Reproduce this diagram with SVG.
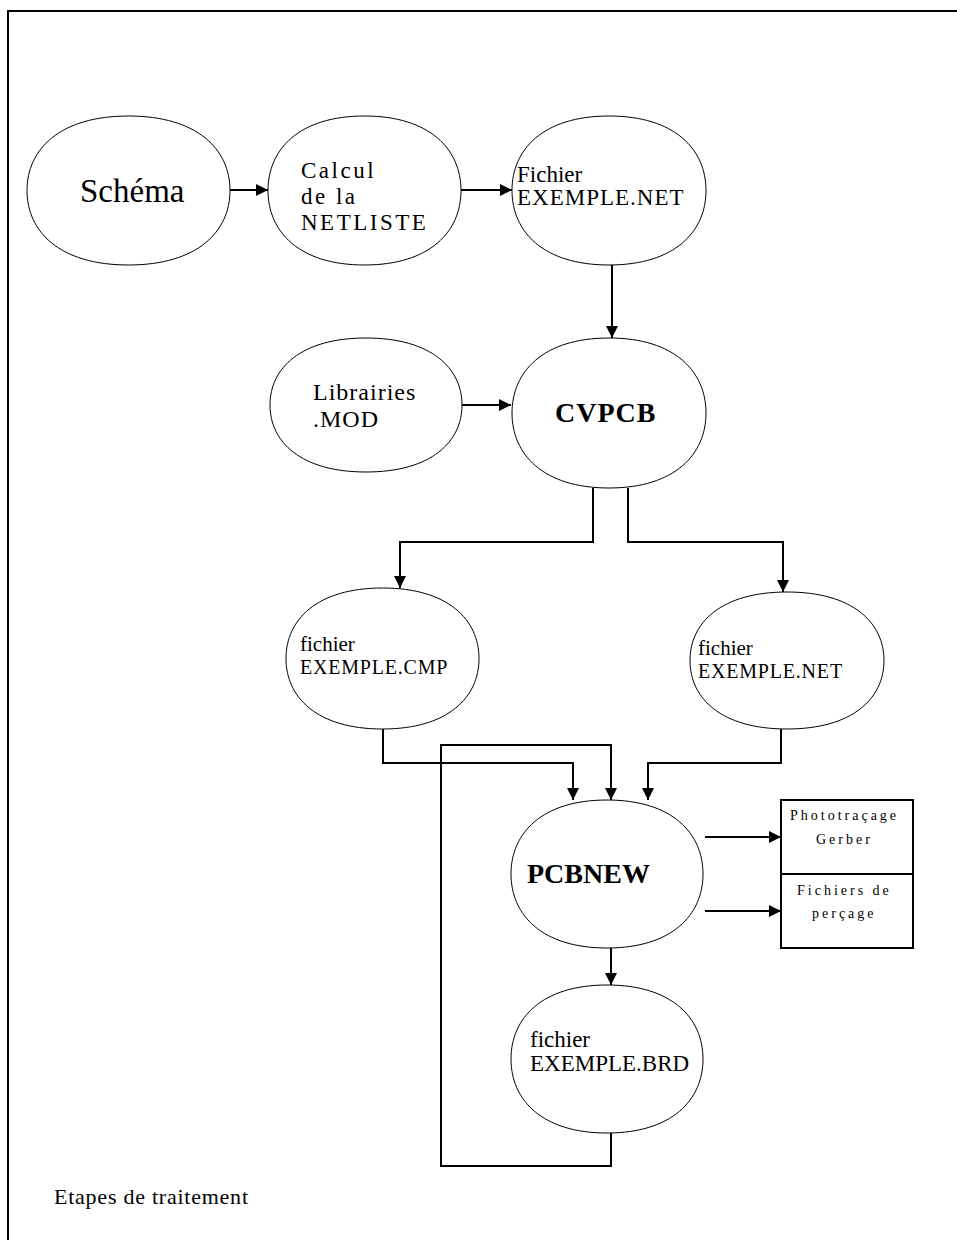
<svg xmlns="http://www.w3.org/2000/svg" width="957" height="1240" viewBox="0 0 957 1240">
<style>
.oval{fill:#fff;stroke:#000;stroke-width:1}
.box{fill:#fff;stroke:#000;stroke-width:2}
.con{fill:none;stroke:#000;stroke-width:2}
.t{font-family:"Liberation Serif","Times New Roman",serif;fill:#000}
.b{font-family:"Liberation Serif","Times New Roman",serif;font-weight:bold;fill:#000;font-size:28px}
.sp{font-family:"Liberation Serif","Times New Roman",serif;fill:#000;font-size:14px;letter-spacing:3px}
</style>
<defs>
<marker id="ah" markerUnits="userSpaceOnUse" markerWidth="12" markerHeight="12" refX="12" refY="6" orient="auto" viewBox="0 0 12 12">
<path d="M0,0 L12,6 L0,12 Z" fill="#000"/>
</marker>
</defs>
<rect x="0" y="0" width="957" height="1240" fill="#fff"/>
<g id="frame"><path d="M8,1240 L8,11 L957,11" fill="none" stroke="#000" stroke-width="2"/></g>

<g id="connectors">
<path class="con" d="M230,190 L268,190" marker-end="url(#ah)"/>
<path class="con" d="M461,190 L512,190" marker-end="url(#ah)"/>
<path class="con" d="M612,265 L612,338" marker-end="url(#ah)"/>
<path class="con" d="M462,405 L511,405" marker-end="url(#ah)"/>
<path class="con" d="M593,488 L593,542 L400,542 L400,588" marker-end="url(#ah)"/>
<path class="con" d="M628,488 L628,542 L783,542 L783,592" marker-end="url(#ah)"/>
<path class="con" d="M383,729 L383,763 L573,763 L573,800" marker-end="url(#ah)"/>
<path class="con" d="M781,729 L781,763 L648,763 L648,800" marker-end="url(#ah)"/>
<path class="con" d="M611,1133 L611,1166 L441,1166 L441,745 L611,745 L611,800" marker-end="url(#ah)"/>
<path class="con" d="M611,948 L611,985" marker-end="url(#ah)"/>
<path class="con" d="M705,837 L781,837" marker-end="url(#ah)"/>
<path class="con" d="M705,911 L781,911" marker-end="url(#ah)"/>
</g>

<g id="schema">
<path class="oval" d="M27,190.5 C27,149.5 59.5,116 128.5,116 C197.5,116 230,149.5 230,190.5 C230,231.5 197.5,265 128.5,265 C59.5,265 27,231.5 27,190.5Z"/>
<text class="t" x="80" y="202" font-size="33">Schéma</text>
</g>
<g id="calcul">
<path class="oval" d="M268,190.5 C268,149.5 298.9,116 364.5,116 C430.1,116 461,149.5 461,190.5 C461,231.5 430.1,265 364.5,265 C298.9,265 268,231.5 268,190.5Z"/>
<text class="t" x="301" y="178" font-size="23" letter-spacing="2.5">Calcul</text>
<text class="t" x="301" y="204" font-size="23" letter-spacing="2.5">de la</text>
<text class="t" x="301" y="230" font-size="23" letter-spacing="2.5">NETLISTE</text>
</g>
<g id="fichier-net">
<path class="oval" d="M512,190.5 C512,149.5 543,116 609,116 C675,116 706,149.5 706,190.5 C706,231.5 675,265 609,265 C543,265 512,231.5 512,190.5Z"/>
<text class="t" x="517" y="182" font-size="23">Fichier</text>
<text class="t" x="517" y="205" font-size="23" letter-spacing="1">EXEMPLE.NET</text>
</g>
<g id="librairies">
<path class="oval" d="M270,405 C270,368.2 300.7,338 366,338 C431.3,338 462,368.2 462,405 C462,441.8 431.3,472 366,472 C300.7,472 270,441.8 270,405Z"/>
<text class="t" x="313" y="400" font-size="24" letter-spacing="1">Librairies</text>
<text class="t" x="313" y="427" font-size="24" letter-spacing="1">.MOD</text>
</g>
<g id="cvpcb">
<path class="oval" d="M512,413 C512,371.8 543,338 609,338 C675,338 706,371.8 706,413 C706,454.2 675,488 609,488 C543,488 512,454.2 512,413Z"/>
<text class="b" x="555" y="422" letter-spacing="1">CVPCB</text>
</g>
<g id="fichier-cmp">
<path class="oval" d="M286,658.5 C286,619.7 316.9,588 382.5,588 C448.1,588 479,619.7 479,658.5 C479,697.3 448.1,729 382.5,729 C316.9,729 286,697.3 286,658.5Z"/>
<text class="t" x="300" y="651" font-size="21">fichier</text>
<text class="t" x="300" y="674" font-size="20" letter-spacing="0.8">EXEMPLE.CMP</text>
</g>
<g id="fichier-net2">
<path class="oval" d="M690,660.5 C690,622.8 721,592 787,592 C853,592 884,622.8 884,660.5 C884,698.2 853,729 787,729 C721,729 690,698.2 690,660.5Z"/>
<text class="t" x="698" y="655" font-size="21">fichier</text>
<text class="t" x="698" y="678" font-size="20" letter-spacing="0.8">EXEMPLE.NET</text>
</g>
<g id="pcbnew">
<path class="oval" d="M511,874 C511,833.3 541.7,800 607,800 C672.3,800 703,833.3 703,874 C703,914.7 672.3,948 607,948 C541.7,948 511,914.7 511,874Z"/>
<text class="b" x="527" y="883">PCBNEW</text>
</g>
<g id="brd">
<path class="oval" d="M511,1059 C511,1018.3 541.7,985 607,985 C672.3,985 703,1018.3 703,1059 C703,1099.7 672.3,1133 607,1133 C541.7,1133 511,1099.7 511,1059Z"/>
<text class="t" x="530" y="1047" font-size="23">fichier</text>
<text class="t" x="530" y="1071" font-size="23">EXEMPLE.BRD</text>
</g>
<g id="gerber">
<rect class="box" x="781" y="800" width="132" height="74"/>
<text class="sp" x="790" y="820">Phototraçage</text>
<text class="sp" x="816" y="844">Gerber</text>
</g>
<g id="percage">
<rect class="box" x="781" y="874" width="132" height="74"/>
<text class="sp" x="797" y="895">Fichiers de</text>
<text class="sp" x="812" y="918">perçage</text>
</g>
<g id="caption">
<text class="t" x="54" y="1204" font-size="22" textLength="194" lengthAdjust="spacing">Etapes de traitement</text>
</g>
</svg>
